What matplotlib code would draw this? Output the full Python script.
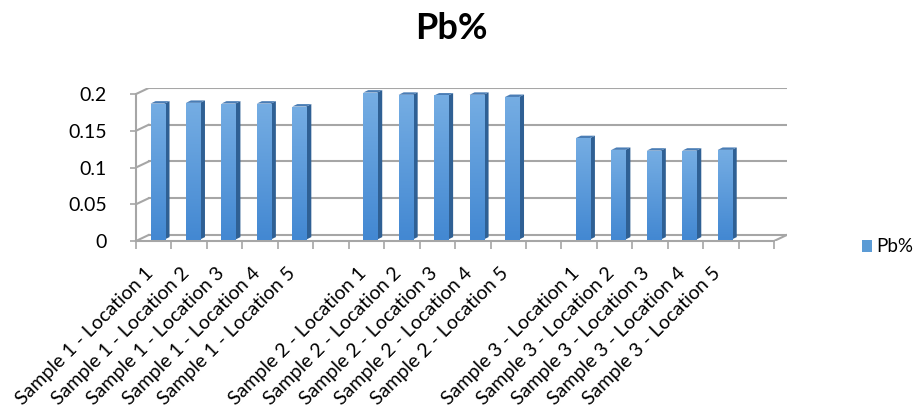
import numpy as np
import matplotlib.pyplot as plt
from matplotlib.patches import Polygon, Rectangle
from matplotlib.transforms import ScaledTranslation
from matplotlib.colors import LinearSegmentedColormap

plt.rcParams['font.family'] = ['Lato', 'DejaVu Sans']

# Pb% per sample/location, blank slots between samples
categories = ['Sample 1 - Location 1', 'Sample 1 - Location 2', 'Sample 1 - Location 3',
              'Sample 1 - Location 4', 'Sample 1 - Location 5', '',
              'Sample 2 - Location 1', 'Sample 2 - Location 2', 'Sample 2 - Location 3',
              'Sample 2 - Location 4', 'Sample 2 - Location 5', '',
              'Sample 3 - Location 1', 'Sample 3 - Location 2', 'Sample 3 - Location 3',
              'Sample 3 - Location 4', 'Sample 3 - Location 5', '']
pb = [0.185, 0.186, 0.185, 0.185, 0.181, None,
      0.200, 0.197, 0.196, 0.197, 0.194, None,
      0.138, 0.122, 0.121, 0.121, 0.122, None]
yticks = [0, 0.05, 0.1, 0.15, 0.2]
ytick_labels = ['0', '0.05', '0.1', '0.15', '0.2']

W, H = 921, 413
n = len(categories)

# fake 3d: depth offset of the back wall, in data units
DX, DY = 0.358, 0.0082
# bar geometry
BW = 0.395
SX, SY = 0.107, 0.002
BDX, BDY = 0.141, 0.0033

fig = plt.figure(figsize=(W / 100, H / 100), dpi=100)
left, right, bottom, top = 136, 786.8, 241, 88
ax = fig.add_axes([left / W, 1 - bottom / H, (right - left) / W, (bottom - top) / H])
ax.patch.set_visible(False)

grid_c = '#a6a6a6'
for v in yticks:
    ax.plot([-0.5 + DX, n - 0.5 + DX], [v + DY, v + DY], color=grid_c, lw=1.5, zorder=1)
    ax.plot([-0.5, -0.5 + DX], [v, v + DY], color=grid_c, lw=1.5, zorder=1)
# right floor edge
ax.plot([n - 0.5, n - 0.5 + DX], [0, DY], color=grid_c, lw=1.5, zorder=1)

for s in ['top', 'right']:
    ax.spines[s].set_visible(False)
ax.spines['left'].set_bounds(0, 0.2)
ax.spines['bottom'].set_bounds(-0.5, n - 0.5)
for s in ['left', 'bottom']:
    ax.spines[s].set_color(grid_c)
    ax.spines[s].set_linewidth(1.5)

ax.set_yticks(yticks)
ax.set_yticklabels(ytick_labels, fontsize=14, color='#000000')
ax.tick_params(axis='y', length=4, width=1.2, color=grid_c, pad=17)
ax.set_xticks(np.arange(-0.5, n, 1.0))
ax.set_xticklabels([])
ax.tick_params(axis='x', length=6, width=1.2, color=grid_c)

# category labels, rotated 45 deg below the floor
off = ScaledTranslation(-3 / 100, -29 / 100, fig.dpi_scale_trans)
for i, lab in enumerate(categories):
    if lab:
        ax.text(i, 0, lab, rotation=45, rotation_mode='anchor', ha='right', va='center',
                fontsize=14, transform=ax.transData + off, clip_on=False)

# bars: gradient front face, darker side and top
grad = np.linspace(0, 1, 64).reshape(-1, 1)
cmap = LinearSegmentedColormap.from_list('front', ['#4388d2', '#75ade3'])
for i, v in enumerate(pb):
    if v is None:
        continue
    xl = i - BW / 2 + SX
    xr = xl + BW
    y0, y1 = SY, SY + v
    side = Polygon([(xr, y0), (xr + BDX, y0 + BDY), (xr + BDX, y1 + BDY), (xr, y1)],
                   closed=True, facecolor='#2f6094', edgecolor='none', zorder=3)
    topf = Polygon([(xl, y1), (xr, y1), (xr + BDX, y1 + BDY), (xl + BDX, y1 + BDY)],
                   closed=True, facecolor='#4a7db5', edgecolor='none', zorder=3)
    ax.add_patch(side)
    ax.add_patch(topf)
    front = Rectangle((xl, y0), BW, v, facecolor='none', edgecolor='none', zorder=3)
    ax.add_patch(front)
    im = ax.imshow(grad, extent=(xl, xr, y0, y1), origin='lower', cmap=cmap,
                   aspect='auto', zorder=3)
    im.set_clip_path(front)

ax.set_xlim(-0.5, n - 0.5 + DX)
ax.set_ylim(0, 0.2 + DY)

fig.text(451 / W, 1 - 39 / H, 'Pb%', ha='center', va='baseline', fontsize=26,
         fontweight='bold')

# legend
fig.add_artist(Rectangle((862 / W, 1 - 252 / H), 10 / W, 12 / H, facecolor='#5b9bd5',
                         edgecolor='none', transform=fig.transFigure))
fig.text(876 / W, 1 - 251.5 / H, 'Pb%', ha='left', va='baseline', fontsize=13.5)

fig.savefig('out.png', dpi=100)
